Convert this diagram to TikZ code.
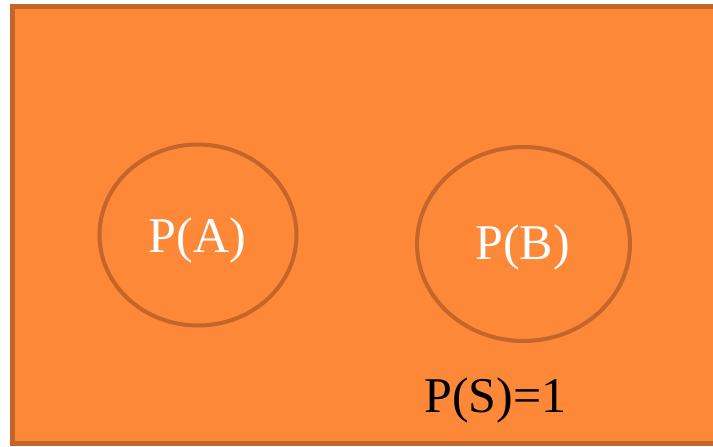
\documentclass[tikz,border=0pt]{standalone}
\usepackage{fontspec}
\setmainfont{Liberation Serif}
\usetikzlibrary{shapes.geometric}
\definecolor{fillor}{RGB}{253,136,56}
\definecolor{edgeor}{RGB}{196,101,42}
\begin{document}
\begin{tikzpicture}[x=1pt,y=1pt,
  lbl/.style={font=\fontsize{50}{54}\selectfont, inner sep=0pt, anchor=base},
  circ/.style={draw=edgeor, line width=4pt}]
\useasboundingbox (0,0) rectangle (713,447);
\begin{scope}
\clip (0,0) rectangle (713,447);
\node[draw=edgeor, line width=5pt, fill=fillor, minimum width=720pt, minimum height=437pt, inner sep=0pt, anchor=south west] (space) at (9.5,0.5) {};
\end{scope}
\node[circ, ellipse, minimum width=197pt, minimum height=181pt, inner sep=0pt] (ea) at (198,212) {};
\node[circ, ellipse, minimum width=213pt, minimum height=194pt, inner sep=0pt] (eb) at (523.5,203) {};
\node[lbl, text=white] (pa) at (197.5,194) {P(A)};
\node[lbl, text=white] (pb) at (522.5,187) {P(B)};
\node[lbl, text=black] (ps) at (495.5,34) {P(S)=1};
\end{tikzpicture}
\end{document}
